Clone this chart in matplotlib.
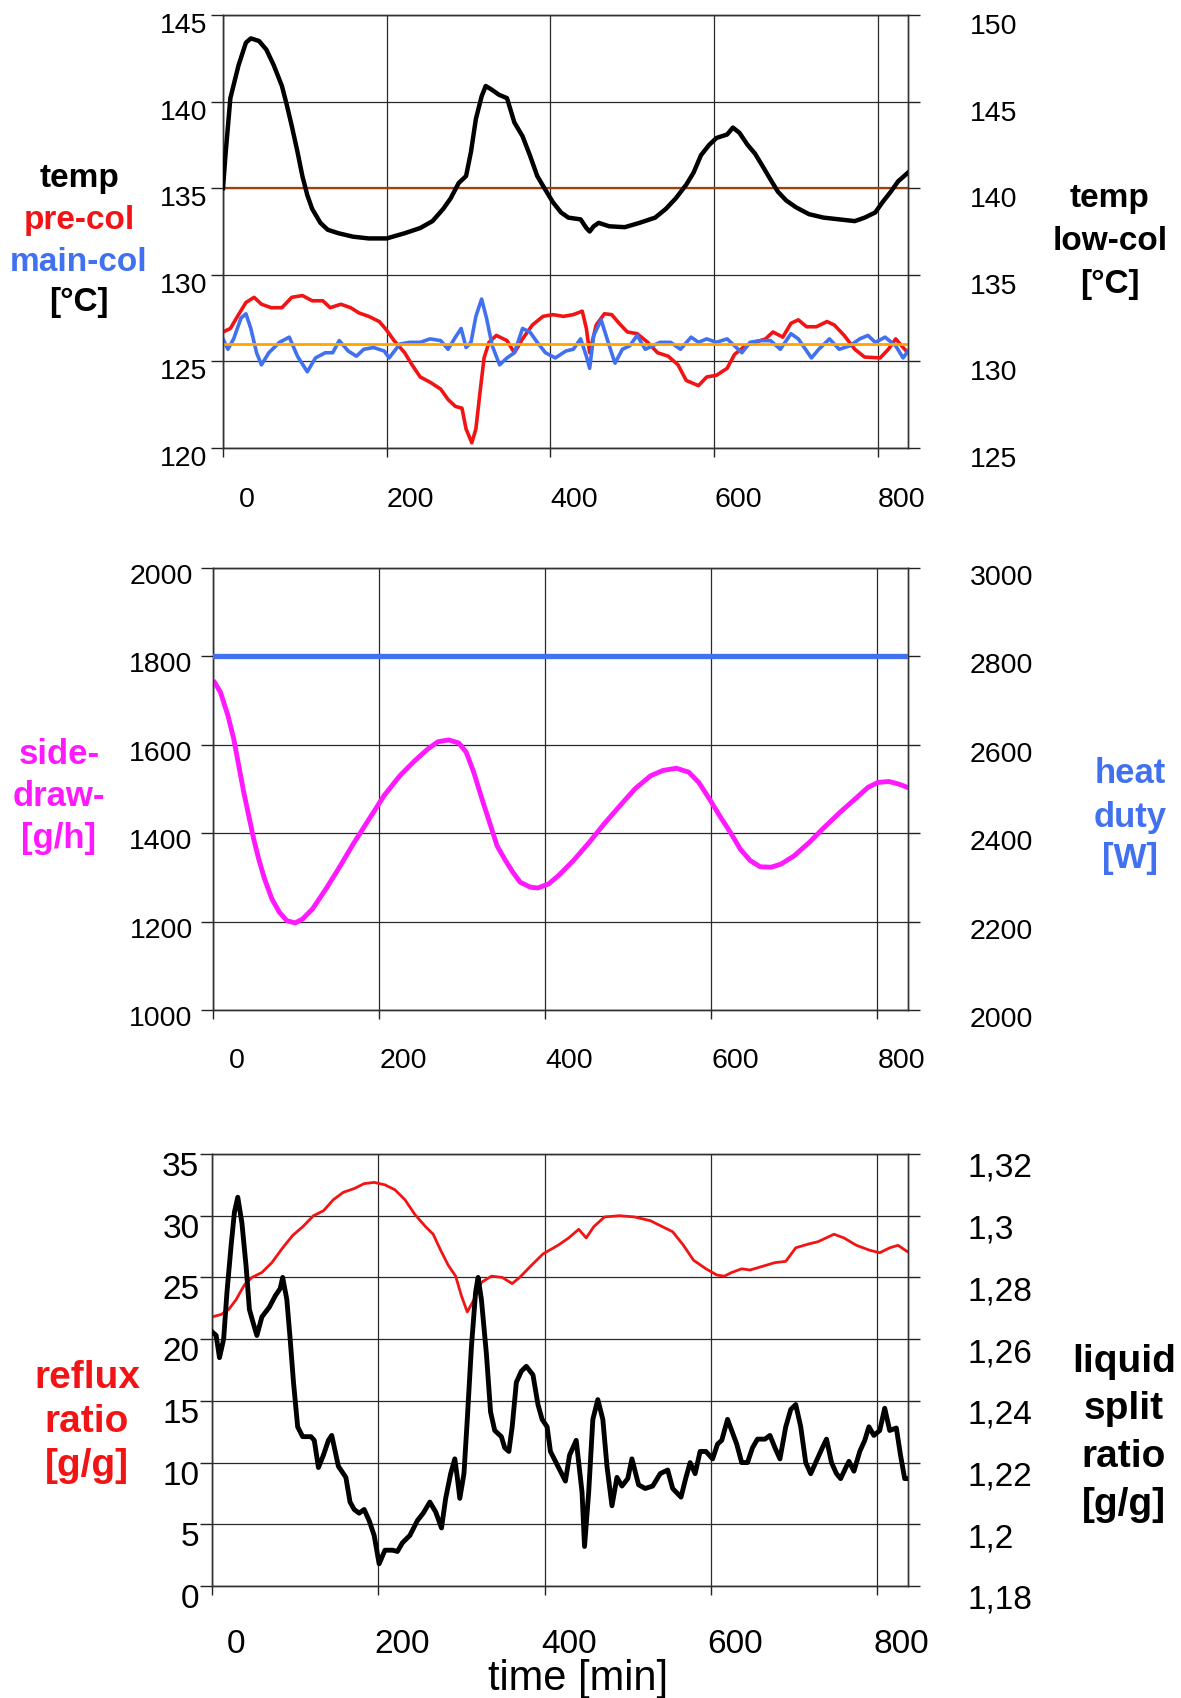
import matplotlib
matplotlib.use("Agg")
import matplotlib.pyplot as plt
from matplotlib.transforms import ScaledTranslation

plt.rcParams['font.family'] = ['Liberation Sans', 'DejaVu Sans']

W, H = 1181, 1699

# ---------------- shared time axis ----------------
time_ticks = [0, 200, 400, 600, 800]
time_tick_labels = ['0', '200', '400', '600', '800']
time_max = 837

# ---------------- panel 1: temperatures ----------------
t_low = [0, 3, 9, 19, 28, 34, 44, 53, 62, 72, 78, 84, 91, 97, 103, 109, 119, 128, 141, 159,
         178, 200, 222, 241, 256, 269, 278, 288, 297, 303, 309, 316, 321, 328, 337, 347, 356, 366, 375, 384,
         394, 403, 413, 422, 437, 444, 448, 453, 459, 472, 491, 509, 528, 541, 553, 566, 575, 584, 594, 603,
         616, 623, 631, 641, 650, 659, 669, 678, 688, 700, 716, 734, 753, 772, 784, 797, 806, 816, 825, 837]
temp_low = [140.0, 141.9, 145.2, 147.1, 148.4, 148.65, 148.5, 148.0, 147.1, 145.9, 144.8, 143.6, 142.1, 140.7,
            139.6, 138.8, 138.0, 137.6, 137.4, 137.2, 137.1, 137.1, 137.4, 137.7, 138.1, 138.8, 139.4, 140.3,
            140.7, 142.1, 144.0, 145.3, 145.9, 145.7, 145.4, 145.2, 143.8, 143.0, 141.9, 140.7, 139.9, 139.2,
            138.6, 138.3, 138.2, 137.7, 137.5, 137.8, 138.0, 137.8, 137.75, 138.0, 138.3, 138.8, 139.4, 140.2,
            140.9, 141.9, 142.5, 142.9, 143.1, 143.5, 143.2, 142.5, 142.0, 141.3, 140.5, 139.8, 139.3, 138.9,
            138.5, 138.3, 138.2, 138.1, 138.3, 138.6, 139.2, 139.8, 140.4, 140.9]

t_pre = [0, 9, 19, 28, 38, 47, 59, 72, 84, 97, 109, 122, 131, 144, 156, 166, 178, 191, 200, 209,
         222, 231, 241, 253, 266, 275, 284, 292, 297, 304, 309, 314, 319, 325, 334, 347, 356, 366, 378, 391,
         403, 416, 428, 439, 444, 448, 456, 466, 475, 484, 494, 506, 519, 531, 544, 556, 566, 581, 591, 603,
         616, 625, 638, 650, 663, 672, 684, 694, 703, 713, 725, 738, 747, 759, 772, 784, 803, 813, 822, 831, 837]
temp_pre = [126.7, 126.9, 127.7, 128.4, 128.7, 128.3, 128.1, 128.1, 128.7, 128.8, 128.5, 128.5, 128.1, 128.3,
            128.1, 127.8, 127.6, 127.3, 126.8, 126.2, 125.5, 124.8, 124.1, 123.8, 123.4, 122.8, 122.4, 122.3,
            121.1, 120.3, 121.1, 123.2, 125.2, 126.1, 126.5, 126.2, 125.5, 126.3, 127.1, 127.6, 127.7, 127.6,
            127.7, 127.9, 126.9, 125.5, 127.1, 127.75, 127.7, 127.2, 126.7, 126.6, 126.1, 125.5, 125.3, 124.8,
            123.9, 123.6, 124.1, 124.2, 124.6, 125.4, 125.9, 126.1, 126.3, 126.7, 126.4, 127.2, 127.4, 127.0,
            127.0, 127.3, 127.1, 126.5, 125.7, 125.25, 125.2, 125.7, 126.3, 125.8, 125.5]

t_main = [0, 6, 13, 22, 28, 34, 41, 47, 56, 69, 81, 91, 103, 113, 125, 134, 142, 153, 163, 172,
          184, 197, 203, 216, 228, 241, 253, 266, 275, 284, 291, 297, 303, 309, 316, 322, 329, 338, 347, 356,
          366, 375, 384, 394, 406, 419, 428, 437, 444, 448, 453, 462, 472, 479, 488, 497, 506, 516, 525, 534,
          547, 559, 572, 581, 591, 603, 616, 625, 634, 644, 656, 669, 681, 694, 703, 719, 728, 741, 753, 766,
          778, 788, 797, 809, 822, 831, 837]
temp_main = [126.3, 125.7, 126.3, 127.5, 127.75, 126.9, 125.5, 124.8, 125.5, 126.1, 126.4, 125.3, 124.4, 125.2,
             125.5, 125.5, 126.2, 125.6, 125.3, 125.7, 125.8, 125.6, 125.2, 126.0, 126.1, 126.1, 126.3, 126.2,
             125.7, 126.4, 126.9, 125.8, 126.1, 127.6, 128.6, 127.5, 125.9, 124.8, 125.2, 125.5, 126.9, 126.7,
             126.1, 125.5, 125.2, 125.6, 125.7, 126.3, 125.3, 124.6, 126.5, 127.4, 125.9, 124.9, 125.7, 125.9,
             126.5, 125.7, 125.9, 126.1, 126.1, 125.7, 126.4, 126.1, 126.3, 126.1, 126.3, 125.9, 125.5, 126.1,
             126.2, 126.2, 125.7, 126.6, 126.3, 125.2, 125.7, 126.3, 125.7, 125.9, 126.3, 126.5, 126.1, 126.4,
             125.9, 125.2, 125.6]

setpoint_low = 140.0        # right axis (low-col)
setpoint_pre_main = 126.0   # left axis (pre-col / main-col)

temp_left_ticks = [120, 125, 130, 135, 140, 145]
temp_right_ticks = [125, 130, 135, 140, 145, 150]

# ---------------- panel 2: side draw / heat duty ----------------
t_side = [2, 9, 18, 25, 31, 37, 43, 49, 55, 62, 71, 80, 89, 99, 108, 120, 136, 151, 169, 188,
          206, 225, 243, 259, 271, 284, 296, 305, 314, 324, 333, 342, 351, 361, 370, 382, 391, 404, 416, 434,
          453, 471, 490, 508, 527, 542, 558, 573, 585, 598, 610, 623, 635, 647, 659, 672, 684, 700, 718, 736,
          755, 773, 789, 801, 814, 826, 836]
side_draw = [1741, 1719, 1666, 1613, 1553, 1493, 1440, 1387, 1342, 1297, 1251, 1221, 1202, 1197, 1206, 1229,
             1274, 1319, 1376, 1432, 1485, 1530, 1564, 1591, 1607, 1611, 1604, 1583, 1538, 1477, 1425, 1372,
             1342, 1312, 1289, 1278, 1276, 1285, 1304, 1338, 1379, 1421, 1462, 1500, 1530, 1542, 1547, 1538,
             1515, 1477, 1440, 1402, 1364, 1338, 1324, 1323, 1330, 1349, 1379, 1413, 1447, 1477, 1504, 1515,
             1517, 1511, 1504]

t_heat = [0, 837]
heat_duty = [2800, 2800]

side_ticks = [1000, 1200, 1400, 1600, 1800, 2000]
duty_ticks = [2000, 2200, 2400, 2600, 2800, 3000]

# ---------------- panel 3: reflux ratio / liquid split ratio ----------------
t_reflux = [0, 11, 20, 29, 39, 48, 60, 72, 85, 97, 109, 122, 134, 146, 158, 171, 183, 195, 208, 220,
            232, 244, 257, 266, 275, 284, 293, 300, 307, 315, 324, 336, 349, 361, 370, 383, 398, 416, 429, 441,
            450, 459, 472, 490, 508, 527, 539, 554, 567, 579, 594, 607, 616, 625, 637, 647, 662, 677, 690, 702,
            717, 729, 748, 760, 775, 791, 803, 815, 825, 836]
reflux_ratio = [21.8, 22.0, 22.4, 23.2, 24.4, 25.0, 25.4, 26.2, 27.4, 28.4, 29.1, 30.0, 30.4, 31.3, 31.9, 32.2,
                32.6, 32.7, 32.5, 32.1, 31.3, 30.1, 29.1, 28.5, 27.2, 26.0, 25.1, 23.5, 22.2, 23.2, 24.6, 25.1,
                25.0, 24.5, 25.0, 25.9, 26.9, 27.6, 28.2, 28.9, 28.2, 29.1, 29.9, 30.0, 29.9, 29.6, 29.2, 28.7,
                27.6, 26.4, 25.7, 25.2, 25.1, 25.4, 25.7, 25.6, 25.9, 26.2, 26.3, 27.4, 27.7, 27.9, 28.5, 28.2,
                27.6, 27.2, 27.0, 27.4, 27.6, 27.1]

t_split = [0, 5, 9, 14, 18, 23, 27, 31, 36, 41, 45, 50, 54, 60, 69, 76, 82, 85, 90, 94,
           98, 103, 109, 119, 123, 128, 134, 140, 144, 152, 161, 166, 171, 177, 183, 189, 195, 201, 208, 217,
           223, 229, 238, 247, 254, 262, 269, 276, 281, 287, 292, 295, 298, 303, 307, 312, 317, 320, 324, 330,
           335, 340, 348, 352, 357, 361, 366, 372, 378, 386, 392, 397, 403, 407, 416, 425, 430, 438, 445, 448,
           453, 458, 464, 470, 475, 481, 487, 493, 500, 505, 513, 521, 530, 539, 548, 554, 564, 570, 575, 581,
           587, 594, 602, 608, 613, 620, 626, 631, 637, 644, 650, 656, 665, 671, 677, 683, 690, 696, 702, 708,
           714, 720, 726, 734, 739, 745, 751, 756, 763, 766, 772, 779, 785, 790, 796, 803, 809, 815, 823, 828,
           833, 837]
split_ratio = [1.2624, 1.2612, 1.254, 1.260, 1.2752, 1.2904, 1.3012, 1.306, 1.2976, 1.2836,
               1.2696, 1.2648, 1.2612, 1.2672, 1.2704, 1.274, 1.2764, 1.280, 1.2728, 1.260,
               1.246, 1.2316, 1.2284, 1.2284, 1.2272, 1.2184, 1.2224, 1.2272, 1.2288, 1.2188,
               1.2152, 1.2072, 1.2048, 1.2036, 1.2048, 1.2012, 1.1964, 1.1872, 1.1916, 1.1916,
               1.1912, 1.194, 1.1964, 1.2012, 1.2036, 1.2072, 1.204, 1.1988, 1.2084, 1.2164,
               1.2212, 1.2152, 1.2084, 1.2164, 1.234, 1.2576, 1.2752, 1.280, 1.2728, 1.2552,
               1.2364, 1.2304, 1.2284, 1.2248, 1.2236, 1.2316, 1.246, 1.2496, 1.2512, 1.2484,
               1.2388, 1.234, 1.2316, 1.2236, 1.2188, 1.214, 1.2224, 1.2272, 1.2104, 1.1928,
               1.2104, 1.234, 1.2404, 1.234, 1.2188, 1.206, 1.2152, 1.2124, 1.2148, 1.2212,
               1.2128, 1.2116, 1.2124, 1.2164, 1.2176, 1.2116, 1.2088, 1.2152, 1.220, 1.2164,
               1.2236, 1.2236, 1.2212, 1.226, 1.2272, 1.234, 1.2296, 1.226, 1.220, 1.220,
               1.2248, 1.2276, 1.2276, 1.2288, 1.2248, 1.2212, 1.2316, 1.2372, 1.2388, 1.2316,
               1.220, 1.2164, 1.220, 1.2248, 1.2276, 1.220, 1.2164, 1.2148, 1.2188, 1.2204,
               1.2172, 1.2236, 1.2272, 1.2316, 1.2288, 1.2304, 1.2376, 1.2304, 1.2312, 1.2224,
               1.2148, 1.2148]

reflux_ticks = [0, 5, 10, 15, 20, 25, 30, 35]
reflux_tick_labels = ['0', '5', '10', '15', '20', '25', '30', '35']
split_ticks = [1.18, 1.20, 1.22, 1.24, 1.26, 1.28, 1.30, 1.32]
split_tick_labels = ['1,18', '1,2', '1,22', '1,24', '1,26', '1,28', '1,3', '1,32']

assert len(t_low) == len(temp_low)
assert len(t_pre) == len(temp_pre)
assert len(t_main) == len(temp_main)
assert len(t_side) == len(side_draw)
assert len(t_reflux) == len(reflux_ratio)
assert len(t_split) == len(split_ratio)

# ---------------- colours ----------------
C_RED = '#F21414'
C_BLUE = '#4171EE'
C_MAG = '#FF19FF'
C_ORANGE = '#FFA500'
C_BROWN = '#A0400C'
C_GRID = '#2a2a2a'

fig = plt.figure(figsize=(W / 100, H / 100), dpi=100)


def px_axes(left, right, top, bottom):
    return fig.add_axes([left / W, 1 - bottom / H, (right - left) / W, (bottom - top) / H])


def shift(labels, dx_px, dy_px):
    for lab in labels:
        lab.set_transform(lab.get_transform() +
                          ScaledTranslation(dx_px / 100, -dy_px / 100, fig.dpi_scale_trans))


def style(ax, axr, yl, yticks_l, ylabels_l, yr, yticks_r, ylabels_r, fs, xpad, lpad, rpad, ydy):
    ax.set_xlim(0, time_max)
    ax.set_xticks(time_ticks)
    ax.set_xticklabels(time_tick_labels)
    ax.set_ylim(*yl)
    ax.set_yticks(yticks_l)
    ax.set_yticklabels(ylabels_l)
    axr.set_ylim(*yr)
    axr.set_yticks(yticks_r)
    axr.set_yticklabels(ylabels_r)
    ax.grid(True, color=C_GRID, lw=0.9)
    ax.set_axisbelow(True)
    ax.tick_params(axis='x', direction='out', length=6.5, width=1.0, color='#222222',
                   pad=xpad, labelsize=fs)
    ax.tick_params(axis='y', direction='out', length=8.6, width=1.0, color='#222222',
                   pad=lpad, labelsize=fs)
    axr.tick_params(axis='y', direction='out', length=8.6, width=1.0, color='#222222',
                    pad=rpad, labelsize=fs)
    for a in (ax, axr):
        for s in a.spines.values():
            s.set_color('#333333')
            s.set_linewidth(1.0)
    shift(ax.get_xticklabels(), 24, 0)
    shift(ax.get_yticklabels(), 0, ydy)
    shift(axr.get_yticklabels(), 0, ydy + 1)


def fmt(v):
    return [str(x) for x in v]


# ---------------- panel 1 ----------------
ax1 = px_axes(223, 908, 16, 449)
ax1r = ax1.twinx()
ax1.plot(t_pre, temp_pre, color=C_RED, lw=2.6, zorder=3)
ax1.plot(t_main, temp_main, color=C_BLUE, lw=2.6, zorder=3)
ax1.axhline(setpoint_pre_main, color=C_ORANGE, lw=2.0, zorder=4)
ax1r.axhline(setpoint_low, color=C_BROWN, lw=1.6, zorder=2)
ax1r.plot(t_low, temp_low, color='black', lw=3.2, zorder=3)
style(ax1, ax1r, (120, 145), temp_left_ticks, fmt(temp_left_ticks),
      (125, 150), temp_right_ticks, fmt(temp_right_ticks), 20.5, 21, 3, 36, 7)

# ---------------- panel 2 ----------------
ax2 = px_axes(213, 908, 569, 1011)
ax2r = ax2.twinx()
ax2.plot(t_side, side_draw, color=C_MAG, lw=3.5, zorder=3)
ax2r.plot(t_heat, heat_duty, color=C_BLUE, lw=3.8, zorder=3)
style(ax2, ax2r, (1000, 2000), side_ticks, fmt(side_ticks),
      (2000, 3000), duty_ticks, fmt(duty_ticks), 20.5, 20, 6, 36, 5)

# ---------------- panel 3 ----------------
ax3 = px_axes(212, 908, 1155, 1587)
ax3r = ax3.twinx()
ax3.plot(t_reflux, reflux_ratio, color=C_RED, lw=2.0, zorder=3)
ax3r.plot(t_split, split_ratio, color='black', lw=3.5, zorder=3)
style(ax3, ax3r, (0, 35), reflux_ticks, reflux_tick_labels,
      (1.18, 1.32), split_ticks, split_tick_labels, 24, 24, 0.5, 34, 9)


# ---------------- side labels ----------------
def label(x, y, s, color, size, weight='bold'):
    fig.text(x / W, 1 - y / H, s, color=color, fontsize=size, fontweight=weight,
             ha='center', va='baseline')


label(79, 187, 'temp', 'black', 24)
label(79, 229, 'pre-col', C_RED, 24)
label(79, 271, 'main-col', C_BLUE, 24)
label(79, 311, '[°C]', 'black', 24)

label(1110, 207, 'temp', 'black', 24)
label(1110, 250, 'low-col', 'black', 24)
label(1110, 293, '[°C]', 'black', 24)

label(59, 764, 'side-', C_MAG, 25)
label(59, 806, 'draw-', C_MAG, 25)
label(59, 848, '[g/h]', C_MAG, 25)

label(1130, 783, 'heat', C_BLUE, 25)
label(1130, 827, 'duty', C_BLUE, 25)
label(1130, 868, '[W]', C_BLUE, 25)

label(87, 1388, 'reflux', C_RED, 28)
label(87, 1432, 'ratio', C_RED, 28)
label(87, 1476, '[g/g]', C_RED, 28)

label(1124, 1372, 'liquid', 'black', 28)
label(1124, 1419, 'split', 'black', 28)
label(1124, 1467, 'ratio', 'black', 28)
label(1124, 1515, '[g/g]', 'black', 28)

label(578, 1690, 'time [min]', 'black', 30, weight='normal')

fig.savefig('out.png', dpi=100)
